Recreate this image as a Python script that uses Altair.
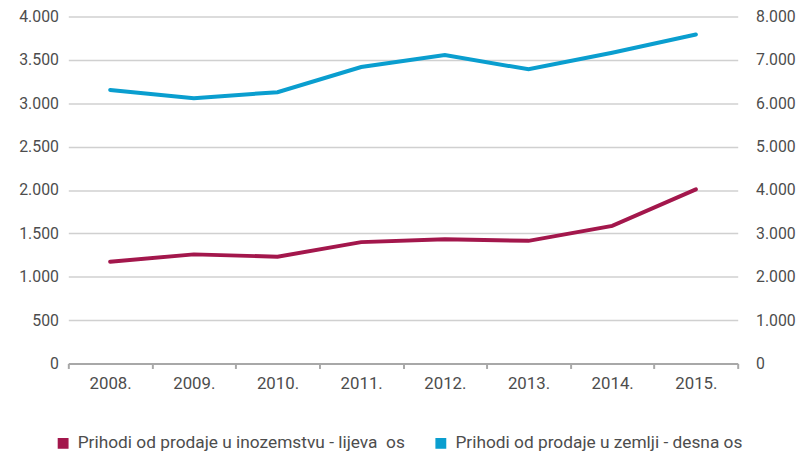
import altair as alt
import pandas as pd

years = ["2008.", "2009.", "2010.", "2011.", "2012.", "2013.", "2014.", "2015."]
foreign = [1173, 1258, 1231, 1399, 1433, 1414, 1586, 2007]
domestic = [6307, 6117, 6255, 6835, 7110, 6782, 7163, 7584]
series_foreign = "Prihodi od prodaje u inozemstvu - lijeva\u00a0 os"
series_domestic = "Prihodi od prodaje u zemlji - desna os"

MAROON = "#A3174C"
BLUE = "#0A9ECF"
TEXT = "#4d4d4d"
FONT = "Roboto"

df_f = pd.DataFrame({"year": years, "value": foreign, "series": series_foreign})
df_d = pd.DataFrame({"year": years, "value": domestic, "series": series_domestic})

fmt = "replace(format(datum.value, ','), ',', '.')"

x_enc = alt.X(
    "year:O",
    sort=years,
    scale=alt.Scale(type="band", paddingInner=0, paddingOuter=0),
    bandPosition=0.5,
    axis=alt.Axis(
        title=None, labelAngle=0, tickBand="extent", grid=False,
        domainColor="#a8a8a8", domainWidth=2, tickColor="#a8a8a8",
        tickSize=5, tickWidth=2, labelPadding=7,
        labelFont=FONT, labelFontSize=17, labelColor=TEXT,
    ),
)

left = alt.Chart(df_f).mark_line(strokeWidth=4, strokeCap="round").encode(
    x=x_enc,
    y=alt.Y(
        "value:Q",
        scale=alt.Scale(domain=[0, 4000], nice=False),
        axis=alt.Axis(
            title=None, values=list(range(0, 4001, 500)), labelExpr=fmt,
            domain=False, ticks=False, labelPadding=10, grid=True,
            gridColor="#d0d0d0", gridWidth=1.5,
            labelFont=FONT, labelFontSize=16, labelColor=TEXT,
        ),
    ),
    color=alt.Color(
        "series:N",
        scale=alt.Scale(range=[MAROON]),
        legend=alt.Legend(
            orient="none", legendX=-14, legendY=423, title=None,
            symbolType="square", symbolSize=90, symbolFillColor=MAROON,
            symbolStrokeColor=MAROON, labelFont=FONT, labelFontSize=17.5,
            labelColor=TEXT, labelOffset=6, labelLimit=0,
        ),
    ),
)

right = alt.Chart(df_d).mark_line(strokeWidth=4, strokeCap="round").encode(
    x=x_enc,
    y=alt.Y(
        "value:Q",
        scale=alt.Scale(domain=[0, 8000], nice=False),
        axis=alt.Axis(
            title=None, orient="right", values=list(range(0, 8001, 1000)),
            labelExpr=fmt, domain=False, ticks=False, labelPadding=18,
            grid=False, labelFont=FONT, labelFontSize=16, labelColor=TEXT,
        ),
    ),
    color=alt.Color(
        "series:N",
        scale=alt.Scale(range=[BLUE]),
        legend=alt.Legend(
            orient="none", legendX=368, legendY=423, title=None,
            symbolType="square", symbolSize=90, symbolFillColor=BLUE,
            symbolStrokeColor=BLUE, labelFont=FONT, labelFontSize=17.5,
            labelColor=TEXT, labelOffset=6, labelLimit=0,
        ),
    ),
)

chart = (
    alt.layer(left, right)
    .resolve_scale(y="independent", color="independent")
    .properties(width=677, height=351, padding={"left": 10, "top": -2, "right": 5, "bottom": 5})
    .configure_view(stroke=None)
)

chart.save("out.html", embed_options={"renderer": "svg", "actions": False})
